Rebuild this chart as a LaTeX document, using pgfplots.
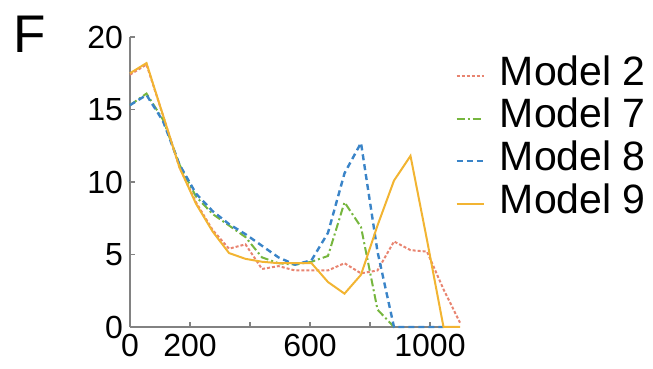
\documentclass[border=0pt]{standalone}
\usepackage{pgfplots}
\pgfplotsset{compat=1.18}
\usepackage{fontspec}
\setmainfont{Liberation Sans}
\definecolor{mtwo}{RGB}{232,132,112}
\definecolor{mseven}{RGB}{118,182,62}
\definecolor{meight}{RGB}{58,132,200}
\definecolor{mnine}{RGB}{242,180,50}
\definecolor{axgray}{RGB}{130,130,130}
\begin{document}
\begin{tikzpicture}
\useasboundingbox (-65pt,-21pt) rectangle (261.5pt,163.5pt);
\begin{axis}[
  at={(0,0)}, anchor=south west,
  width=165pt, height=145pt, scale only axis,
  xmin=0, xmax=1100, ymin=0, ymax=20,
  axis lines*=left,
  axis line style={axgray, line width=1pt},
  tick align=inside,
  major tick length=2.5pt,
  tick style={axgray, line width=0.8pt},
  xtick={0,200,400,600,800,1000},
  xticklabels={0,200,,600,,1000},
  ytick={0,5,10,15,20},
  tick label style={font=\fontsize{16}{16}\selectfont, text=black},
  /pgf/number format/assume math mode=true,
  legend style={at={(0.985,0.94)}, anchor=north west, draw=none, fill=none,
    inner sep=0pt, font=\fontsize{20.5}{22}\selectfont,
    nodes={inner sep=0pt, text height=15.3pt, text depth=6pt},
    /tikz/every odd column/.append style={column sep=7.5pt}},
  legend cell align=left,
  legend image code/.code={\draw[#1] (0pt,0pt) -- (13.5pt,0pt);},
  clip=false,
]
\addplot[mtwo, line width=1pt, dash pattern=on 1.5pt off 1pt] coordinates {
(0,17.4)(55,18.1)(110,14.6)(165,11.0)(220,8.6)(275,6.7)(330,5.4)(385,5.7)(440,4.0)(495,4.2)(550,3.9)(605,3.9)(660,3.9)(715,4.4)(770,3.7)(825,3.9)(880,5.9)(935,5.3)(990,5.2)(1045,2.6)(1100,0.3)};
\addlegendentry{Model 2}
\addplot[mseven, line width=1pt, dash pattern=on 4pt off 1.5pt on 1pt off 1.5pt] coordinates {
(0,15.3)(55,16.1)(110,14.3)(165,11.2)(220,9.0)(275,7.8)(330,7.0)(385,6.2)(440,4.8)(495,4.4)(550,4.3)(605,4.5)(660,4.9)(715,8.6)(770,6.9)(825,1.2)(880,0)};
\addlegendentry{Model 7}
\addplot[meight, line width=1.2pt, dash pattern=on 3pt off 2pt] coordinates {
(0,15.3)(55,16.0)(110,14.2)(165,11.2)(220,9.2)(275,8.0)(330,7.1)(385,6.4)(440,5.6)(495,4.8)(550,4.3)(605,4.6)(660,6.5)(715,10.6)(770,12.7)(825,5.2)(880,0)(935,0)(990,0)(1045,0)};
\addlegendentry{Model 8}
\addplot[mnine, line width=1pt] coordinates {
(0,17.5)(55,18.2)(110,14.6)(165,11.0)(220,8.5)(275,6.6)(330,5.1)(385,4.7)(440,4.5)(495,4.4)(550,4.4)(605,4.4)(660,3.1)(715,2.3)(770,3.6)(825,7.0)(880,10.1)(935,11.8)(990,6.0)(1045,0)(1100,0)};
\addlegendentry{Model 9}
\end{axis}
\node[font=\fontsize{26.5}{26.5}\selectfont, inner sep=0pt] at (-50pt,146.5pt) {F};
\end{tikzpicture}
\end{document}
